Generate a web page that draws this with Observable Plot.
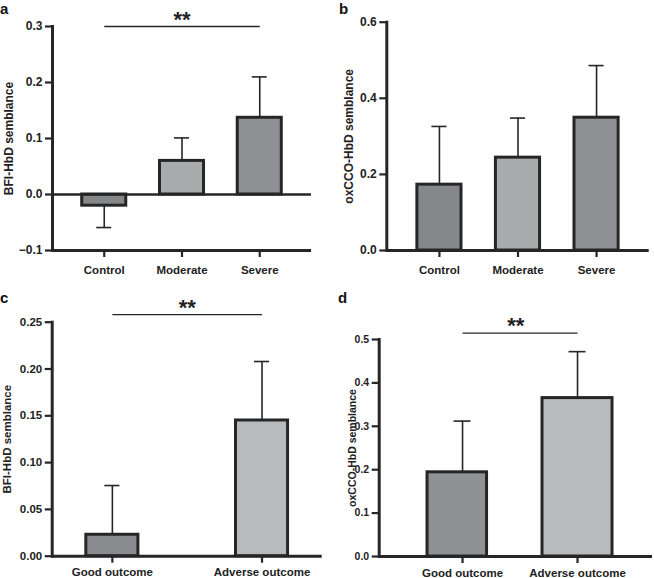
<!DOCTYPE html>
<html>
<head>
<meta charset="utf-8">
<script src="https://cdn.jsdelivr.net/npm/d3@7"></script>
<script src="https://cdn.jsdelivr.net/npm/@observablehq/plot@0.6"></script>
<style>
  html, body { margin: 0; padding: 0; background: #fff; }
  #wrap { position: relative; width: 654px; height: 578px; font-family: "Liberation Sans", Arial, sans-serif; color: #222; }
  .cell { position: absolute; }
  .letter { position: absolute; font-weight: bold; font-size: 15px; line-height: 15px; color: #111; }
</style>
</head>
<body>
<div id="wrap">
  <div class="cell" id="pa" style="left:0;top:0"></div>
  <div class="cell" id="pb" style="left:327px;top:0"></div>
  <div class="cell" id="pc" style="left:0;top:290px"></div>
  <div class="cell" id="pd" style="left:327px;top:290px"></div>
  <span class="letter" style="left:0;top:1px">a</span>
  <span class="letter" style="left:339px;top:1px">b</span>
  <span class="letter" style="left:0;top:290px">c</span>
  <span class="letter" style="left:338px;top:290px">d</span>
</div>
<script>
// ---- data ----
const severityGroups = ["Control", "Moderate", "Severe"];
const outcomeGroups = ["Good outcome", "Adverse outcome"];

const bfiSeverityMean = [-0.020, 0.060, 0.137];
const bfiSeverityErr  = [0.039, 0.041, 0.073];

const oxSeverityMean = [0.173, 0.244, 0.349];
const oxSeverityErr  = [0.153, 0.104, 0.137];

const bfiOutcomeMean = [0.0229, 0.145];
const bfiOutcomeErr  = [0.0526, 0.063];

const oxOutcomeMean = [0.194, 0.365];
const oxOutcomeErr  = [0.118, 0.107];

const ticksA = [-0.1, 0.0, 0.1, 0.2, 0.3];
const ticksB = [0.0, 0.2, 0.4, 0.6];
const ticksC = [0.00, 0.05, 0.10, 0.15, 0.20, 0.25];
const ticksD = [0.0, 0.1, 0.2, 0.3, 0.4, 0.5];

const sigA = {from: "Control", to: "Severe", y: 0.3, label: "**"};
const sigC = {from: "Good outcome", to: "Adverse outcome", y: 0.258, label: "**"};
const sigD = {from: "Good outcome", to: "Adverse outcome", y: 0.5145, label: "**"};

// ---- styles ----
const INK = "#262626";
const severityFills = ["#86878a", "#aaabad", "#8f9093"];
const outcomeFillsC = ["#8b8c8f", "#b9babc"];
const outcomeFillsD = ["#909194", "#b9babc"];

function panel(o) {
  const data = o.cats.map((c, i) => ({
    cat: c,
    mean: o.means[i],
    end: o.means[i] + (o.means[i] < 0 ? -1 : 1) * o.errs[i]
  }));
  const marks = [];
  marks.push(Plot.ruleX(data, {x: "cat", y1: "mean", y2: "end", stroke: INK, strokeWidth: 1.6}));
  marks.push(Plot.tickY(data, {x: "cat", y: "end", stroke: INK, strokeWidth: 1.6, insetLeft: o.capInset, insetRight: o.capInset}));
  if (o.barInsets) {
    o.cats.forEach((c, i) => {
      marks.push(Plot.barY(data.filter(d => d.cat === c), {x: "cat", y: "mean", fill: "cat", stroke: INK, strokeWidth: 3, insetLeft: o.barInsets[i][0], insetRight: o.barInsets[i][1]}));
    });
  } else {
    marks.push(Plot.barY(data, {x: "cat", y: "mean", fill: "cat", stroke: INK, strokeWidth: 3, insetLeft: 1.5, insetRight: 1.5}));
  }
  if (o.zero) marks.push(Plot.ruleY([0], {stroke: INK, strokeWidth: 2.5}));
  marks.push(Plot.ruleY([o.yDomain[0]], {stroke: INK, strokeWidth: 3}));
  marks.push(Plot.frame({anchor: "left", stroke: INK, strokeWidth: 3}));
  marks.push(Plot.axisY({
    ticks: o.ticks, tickFormat: d3.format(o.fmt), tickSize: 7, tickPadding: 3,
    stroke: INK, strokeWidth: 2.2, fontSize: o.tickFont, fill: "#222",
    label: o.yLabel, labelAnchor: "center", labelOffset: o.labelOffset, labelArrow: "none"
  }));
  marks.push(Plot.axisX({tickSize: 7, tickPadding: o.xPad, stroke: INK, strokeWidth: 2.2, fontSize: 11.5, fill: "#222", label: null}));
  if (o.sig) {
    marks.push(Plot.link([o.sig], {x1: "from", x2: "to", y1: "y", y2: "y", stroke: INK, strokeWidth: 1.3}));
    marks.push(Plot.text([o.sig], {y: "y", text: "label", frameAnchor: "middle", lineAnchor: "bottom", dy: 0, fontSize: 22, fontWeight: "bold", fill: "#222"}));
  }
  return Plot.plot({
    width: o.width, height: o.height,
    marginLeft: o.m[0], marginRight: o.m[1], marginTop: o.m[2], marginBottom: o.m[3],
    style: {fontFamily: "'Liberation Sans', Arial, sans-serif", fontWeight: "bold", fontSize: "11px", color: "#222", overflow: "visible", background: "transparent"},
    x: {domain: o.cats, paddingInner: o.band[0], paddingOuter: o.band[1], align: o.band[2], round: false},
    y: {domain: o.yDomain},
    color: {domain: o.cats, range: o.fills},
    marks
  });
}

document.getElementById("pa").append(panel({
  cats: severityGroups, means: bfiSeverityMean, errs: bfiSeverityErr, fills: severityFills,
  width: 327, height: 290, m: [52, 16, 26, 40], band: [0.395, 0.363, 0.5],
  yDomain: [-0.1, 0.3], ticks: ticksA, fmt: ".1f", yLabel: "BFI-HbD semblance", labelOffset: 48,
  xPad: 8, capInset: 16, zero: true, sig: sigA, tickFont: 12
}));
document.getElementById("pb").append(panel({
  cats: severityGroups, means: oxSeverityMean, errs: oxSeverityErr, fills: severityFills,
  width: 327, height: 290, m: [59.3, 5.3, 21.7, 40], band: [0.4, 0.37, 0.5],
  yDomain: [0, 0.6], ticks: ticksB, fmt: ".1f", yLabel: "oxCCO-HbD semblance", labelOffset: 42,
  xPad: 8, capInset: 16, tickFont: 12
}));
document.getElementById("pc").append(panel({
  cats: outcomeGroups, means: bfiOutcomeMean, errs: bfiOutcomeErr, fills: outcomeFillsC,
  width: 327, height: 288, m: [51.7, 5.3, 31.7, 22.3], band: [0.632, 0.218, 0.5],
  yDomain: [0, 0.25], ticks: ticksC, fmt: ".2f", yLabel: "BFI-HbD semblance", labelOffset: 49.7,
  xPad: 5, capInset: 20, sig: sigC, tickFont: 11.5
}));
document.getElementById("pd").append(panel({
  cats: outcomeGroups, means: oxOutcomeMean, errs: oxOutcomeErr, fills: outcomeFillsD,
  width: 327, height: 288, m: [51.7, 2, 49, 22], band: [0.365, 0.371, 0.549],
  yDomain: [0, 0.5], ticks: ticksD, fmt: ".1f", yLabel: "oxCCO-HbD semblance", labelOffset: 31,
  xPad: 5, capInset: 28, sig: sigD, barInsets: [[1.5, 12], [1.5, 1.5]], tickFont: 10.5
}));
</script>
</body>
</html>
